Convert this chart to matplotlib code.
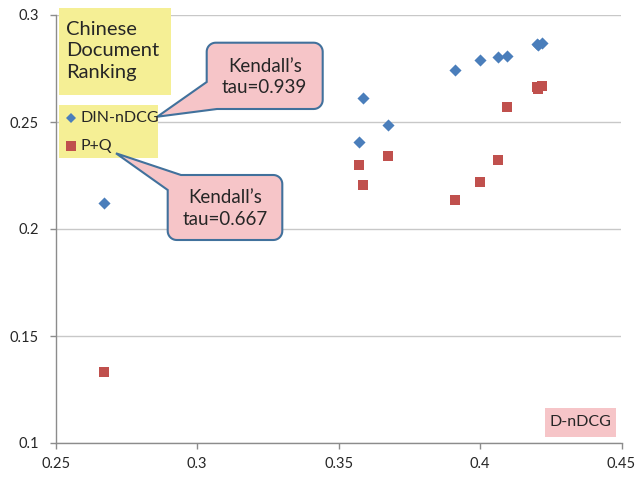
import numpy as np
import matplotlib
matplotlib.use("Agg")
import matplotlib.pyplot as plt
from matplotlib.patches import Polygon, Rectangle
from matplotlib.lines import Line2D

# ── data: D-nDCG (x) against DIN-nDCG and P+Q (y) ────────────────────────────
d_ndcg   = [0.267, 0.3571, 0.3585, 0.3675, 0.3913, 0.3999, 0.4063, 0.4097, 0.4202, 0.4206, 0.4218]
din_ndcg = [0.212, 0.2407, 0.2611, 0.2486, 0.2742, 0.2790, 0.2805, 0.2808, 0.2864, 0.2862, 0.2871]
p_plus_q = [0.133, 0.2299, 0.2206, 0.2341, 0.2136, 0.2220, 0.2321, 0.2572, 0.2662, 0.2652, 0.2668]
x_ticks = [0.25, 0.3, 0.35, 0.4, 0.45]
y_ticks = [0.1, 0.15, 0.2, 0.25, 0.3]

BLUE   = "#4A7EBB"
RED    = "#C0504D"
YELLOW = "#F5EF95"
PINK   = "#F6C5C8"
EDGE   = "#41719C"
GRID   = "#C8C8C8"
AXIS   = "#8C8C8C"
TEXT   = "#262626"
FONT   = "Lato"

W, H = 637, 478
plt.rcParams["font.family"] = [FONT, "DejaVu Sans"]

fig = plt.figure(figsize=(W / 100, H / 100), dpi=100)
fig.patch.set_facecolor("white")
ax = fig.add_axes([55.7 / W, 1 - 443 / H, (621.5 - 55.7) / W, (443 - 15) / H])

ax.scatter(d_ndcg, din_ndcg, marker="D", s=38, color=BLUE, linewidths=0, zorder=3)
ax.scatter(d_ndcg, p_plus_q, marker="s", s=52, color=RED, linewidths=0, zorder=3)

ax.set_xlim(0.25, 0.45)
ax.set_ylim(0.1, 0.3)
ax.set_xticks(x_ticks)
ax.set_yticks(y_ticks)
ax.set_xticklabels(["%g" % v for v in x_ticks])
ax.set_yticklabels(["%g" % v for v in y_ticks])
ax.tick_params(axis="both", colors=AXIS, labelcolor=TEXT, labelsize=10.5,
               length=4, width=1, direction="out")
ax.tick_params(axis="y", pad=8)
ax.tick_params(axis="x", pad=6)
ax.grid(axis="y", color=GRID, linewidth=1)
ax.set_axisbelow(True)
for s in ["top", "right"]:
    ax.spines[s].set_visible(False)
for s in ["left", "bottom"]:
    ax.spines[s].set_color(AXIS)
    ax.spines[s].set_linewidth(1)


def fx(px):
    return px / W


def fy(py):
    return 1 - py / H


def box(x0, y0, x1, y1, color):
    fig.patches.append(Rectangle((fx(x0), fy(y1)), fx(x1) - fx(x0), fy(y0) - fy(y1),
                                 transform=fig.transFigure, facecolor=color,
                                 edgecolor="none", zorder=4))


def callout(x0, y0, x1, y1, r, skip, insert):
    # rounded rectangle (pixel coords, y down) with one corner replaced by a tail
    corners = [((x0 + r, y0 + r), 180), ((x1 - r, y0 + r), 270),
               ((x1 - r, y1 - r), 0), ((x0 + r, y1 - r), 90)]
    pts = []
    for k in range(1, 4):
        (cx, cy), a0 = corners[(skip + k) % 4]
        for t in np.radians(np.linspace(a0, a0 + 90, 10)):
            pts.append((cx + r * np.cos(t), cy + r * np.sin(t)))
    pts += insert
    pts = [(fx(px), fy(py)) for px, py in pts]
    fig.patches.append(Polygon(pts, closed=True, transform=fig.transFigure,
                               facecolor=PINK, edgecolor=EDGE, linewidth=1.5, zorder=5))


# title box
box(59, 8, 171, 95, YELLOW)
fig.text(fx(66), fy(51), "Chinese\nDocument\nRanking", fontsize=14.5, color=TEXT,
         ha="left", va="center", linespacing=1.3, zorder=6)

# legend box
box(59, 105, 158, 158, YELLOW)
fig.add_artist(Line2D([fx(71)], [fy(118)], marker="D", markersize=5.5, color=BLUE,
                      markeredgewidth=0, linestyle="none", zorder=6))
fig.add_artist(Line2D([fx(71)], [fy(146)], marker="s", markersize=6.5, color=RED,
                      markeredgewidth=0, linestyle="none", zorder=6))
fig.text(fx(81), fy(118), "DIN-nDCG", fontsize=11.5, color=TEXT, ha="left", va="center", zorder=6)
fig.text(fx(81), fy(146), "P+Q", fontsize=11.5, color=TEXT, ha="left", va="center", zorder=6)

# Kendall's tau callouts
callout(206.7, 42.7, 322.7, 109, 9, 3, [(217, 109), (157.3, 116.7), (206.7, 82)])
fig.text(fx(264.7), fy(77), "Kendall’s\ntau=0.939", fontsize=13.5, color=TEXT,
         ha="center", va="center", linespacing=1.35, zorder=6)
callout(167.7, 175, 282.3, 240, 9, 0, [(167.7, 190), (116, 153.3), (181, 175)])
fig.text(fx(225), fy(208.5), "Kendall’s\ntau=0.667", fontsize=13.5, color=TEXT,
         ha="center", va="center", linespacing=1.35, zorder=6)

# x-axis label box
box(545, 407.7, 616, 436.7, PINK)
fig.text(fx(580.5), fy(422), "D-nDCG", fontsize=11.5, color=TEXT,
         ha="center", va="center", zorder=6)

fig.savefig("out.png", dpi=100, facecolor="white")
